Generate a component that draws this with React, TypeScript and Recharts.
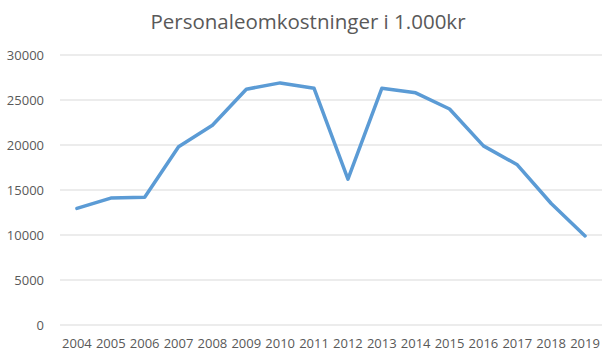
import React from "react";
import { CartesianGrid, Line, LineChart, XAxis, YAxis } from "recharts";

const years = [
	"2004", "2005", "2006", "2007", "2008", "2009", "2010", "2011",
	"2012", "2013", "2014", "2015", "2016", "2017", "2018", "2019",
];
const costs = [
	12950, 14100, 14200, 19800, 22200, 26200, 26900, 26300,
	16200, 26300, 25800, 24000, 19900, 17800, 13500, 9900,
];
const yTicks = [0, 5000, 10000, 15000, 20000, 25000, 30000];

const data = years.map((year, i) => ({ year, value: costs[i] }));

const textColor = "#595959";
const font = "'Open Sans', sans-serif";

const App: React.FC = () => {
	return (
		<div
			style={{
				position: "absolute",
				left: 0,
				top: 0,
				width: 616,
				height: 359,
				background: "#fff",
				fontFamily: font,
			}}
		>
			<div
				style={{
					position: "absolute",
					top: 7,
					left: 0,
					width: 616,
					textAlign: "center",
					fontSize: 20.5,
					color: textColor,
				}}
			>
				Personaleomkostninger i 1.000kr
			</div>
			<LineChart
				width={616}
				height={359}
				data={data}
				margin={{ top: 55, right: 14, bottom: 0, left: 0 }}
			>
				<CartesianGrid vertical={false} stroke="#d9d9d9" strokeWidth={1} />
				<XAxis
					dataKey="year"
					scale="band"
					axisLine={false}
					tickLine={false}
					tickSize={0}
					tickMargin={14}
					height={34}
					interval={0}
					tick={{ fill: textColor, fontSize: 13, fontFamily: font }}
				/>
				<YAxis
					domain={[0, 30000]}
					ticks={yTicks}
					axisLine={false}
					tickLine={false}
					tickSize={0}
					tickMargin={16}
					width={60}
					tick={{ fill: textColor, fontSize: 13, fontFamily: font }}
				/>
				<Line
					dataKey="value"
					type="linear"
					stroke="#5b9bd5"
					strokeWidth={3.5}
					strokeLinejoin="round"
					strokeLinecap="round"
					dot={false}
					isAnimationActive={false}
				/>
			</LineChart>
		</div>
	);
};

export default App;
